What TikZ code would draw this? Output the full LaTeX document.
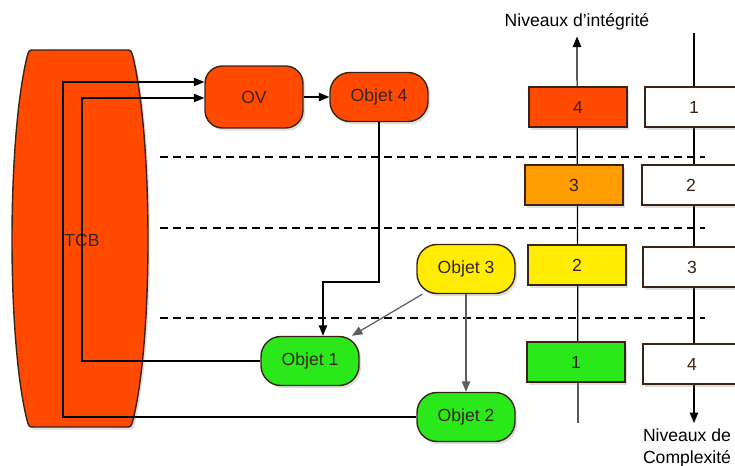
\documentclass[tikz,border=0pt]{standalone}
\usepackage{fontspec}
\setmainfont{Liberation Sans}
\usepackage{xcolor}
\usepackage{tikz}
\usetikzlibrary{arrows.meta,positioning,backgrounds,shadows}
\definecolor{TCBred}{HTML}{FF4A00}
\definecolor{LVLorange}{HTML}{FF9C00}
\definecolor{LVLyellow}{HTML}{FFEC00}
\definecolor{LVLgreen}{HTML}{2BE81A}
\definecolor{EDGEdark}{HTML}{3A2418}
\definecolor{ARRgray}{HTML}{5E5E5E}

\begin{document}
\begin{tikzpicture}[x=0.02cm, y=-0.02cm, font=\fontsize{10}{12}\selectfont,
    boxshadow/.style={drop shadow={opacity=0.25, shadow xshift=1.2pt, shadow yshift=-1.5pt}},
    objet/.style={draw=EDGEdark, line width=0.8pt, rounded corners=0.4cm,
      minimum width=1.96cm, minimum height=0.98cm, text=EDGEdark, boxshadow},
    niveau/.style={draw=EDGEdark, line width=0.8pt, minimum width=1.96cm,
      minimum height=0.8cm, text=EDGEdark, boxshadow},
    arr/.style={-{Triangle[length=6pt, width=4.8pt]}, line width=0.7pt},
    garr/.style={arr, ARRgray},
    sep/.style={dash pattern=on 4.5pt off 3pt, line width=0.8pt}]
  \useasboundingbox (0,0) rectangle (735,466);

  % TCB
  \path[fill=TCBred, draw=EDGEdark, line width=0.8pt, boxshadow]
    (34,50) -- (126,50) .. controls (131,50) .. (133,57)
    .. controls (153,140) and (153,340) .. (133,420)
    .. controls (131,427) .. (126,427) -- (34,427)
    .. controls (29,427) .. (27,420)
    .. controls (7,340) and (7,140) .. (27,57)
    .. controls (29,50) .. (34,50) -- cycle;
  \node[text=EDGEdark] (tcb) at (82,240) {TCB};

  % separateurs
  \draw[sep] (160,157) -- (705,157);
  \draw[sep] (160,228) -- (705,228);
  \draw[sep] (160,318) -- (705,318);

  % objets
  \node[objet, fill=TCBred, minimum height=1.24cm, rounded corners=0.35cm] (ov) at (254,97) {OV};
  \node[objet, fill=TCBred] (o4) at (379,97) {Objet 4};
  \node[objet, fill=LVLyellow] (o3) at (466,269) {Objet 3};
  \node[objet, fill=LVLgreen] (o1) at (310,361) {Objet 1};
  \node[objet, fill=LVLgreen] (o2) at (466,417) {Objet 2};

  % niveaux d'integrite
  \node[niveau, fill=TCBred] (n4) at (578,107) {4};
  \node[niveau, fill=LVLorange] (n3) at (574,185) {3};
  \node[niveau, fill=LVLyellow] (n2) at (577,265) {2};
  \node[niveau, fill=LVLgreen] (n1) at (576,362) {1};
  \node (intlab) at (577,22) {Niveaux d'intégrité};
  \coordinate (intbot) at (578,423);

  % niveaux de complexite
  \node[niveau, fill=white] (c1) at (694,107) {1};
  \node[niveau, fill=white] (c2) at (691,185) {2};
  \node[niveau, fill=white] (c3) at (692,267) {3};
  \node[niveau, fill=white] (c4) at (692,364) {4};
  \node[align=center] (compl) at (687,448) {Niveaux de\\Complexité};
  \coordinate (comptop) at (694,33);

  \begin{scope}[on background layer]
    \draw[arr] (intbot) -- (intlab.south);
    \draw[arr] (comptop) -- (comptop |- compl.north);
  \end{scope}

  % liens
  \coordinate (tcbA) at (63,82);
  \coordinate (tcbB) at (82,98);
  \coordinate (bend) at (323,282);
  \draw[arr] (o2.west) -| (tcbA) -- (tcbA -| ov.west);
  \draw[arr] (o1.west) -| (tcbB) -- (tcbB -| ov.west);
  \draw[arr] (ov.east) -- (o4.west);
  \draw[arr] (o4.south) |- (bend) -- (bend |- o1.north);
  \draw[garr] (o3.210) -- (o1.31);
  \draw[garr] (o3.south) -- (o2.north);
\end{tikzpicture}
\end{document}
